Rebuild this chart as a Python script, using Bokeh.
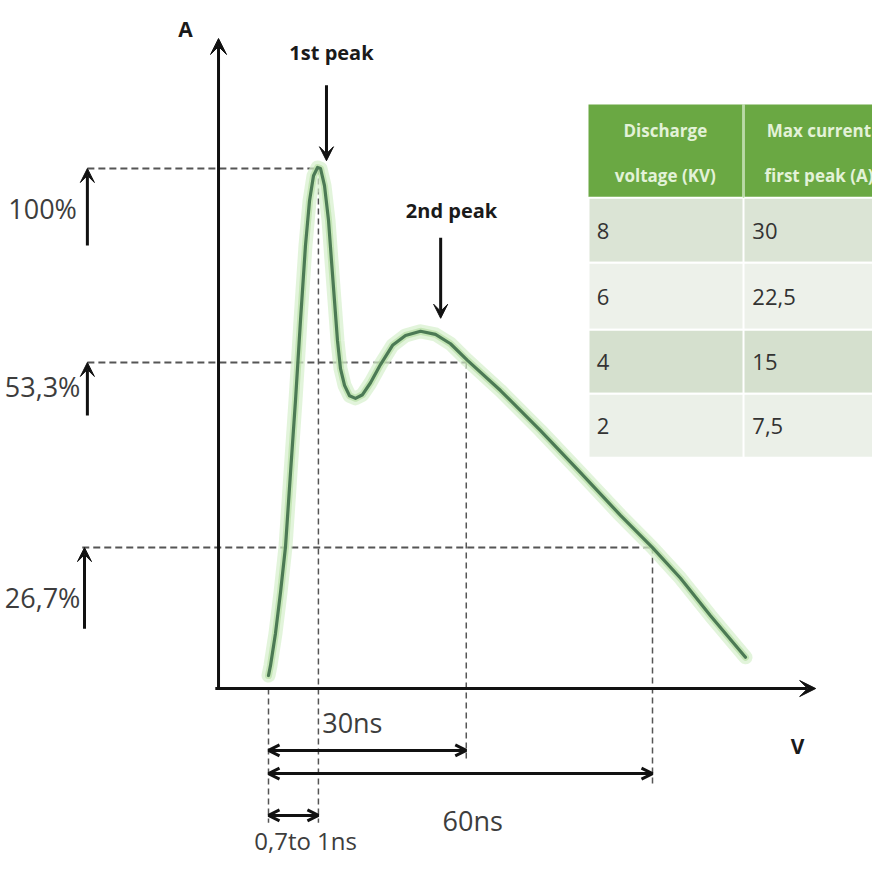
from bokeh.plotting import figure
from bokeh.models import Range1d, Arrow, VeeHead, OpenHead, ColumnDataSource
from bokeh.core.properties import value
from bokeh.embed import file_html
from bokeh.resources import INLINE

# ---------------- data ----------------
# ESD current waveform: time in ns, current in % of first peak
time_ns = [0.0, 0.31, 1.09, 1.88, 2.66, 3.44, 4.22, 5.0, 5.78, 6.41, 7.03, 7.66,
           8.13, 8.75, 9.38, 9.84, 10.31, 10.78, 11.25, 11.88, 12.66, 13.59, 14.69,
           15.94, 17.5, 19.38, 21.41, 23.75, 26.09, 28.44, 31.09, 36.25, 42.5,
           48.75, 55.0, 60.0, 64.38, 69.06, 74.53]
current_pct = [2.5, 4.4, 10.6, 18.5, 27.3, 41.5, 55.4, 70.8, 85.2, 93.8, 98.6, 100.2,
               100.0, 96.7, 90.0, 82.3, 74.6, 66.9, 61.5, 58.3, 56.3, 55.8, 56.5,
               58.8, 62.3, 66.0, 67.9, 68.7, 68.1, 66.3, 63.1, 57.3, 49.6,
               41.5, 33.3, 27.1, 21.2, 14.0, 6.0]

# guide levels (as drawn) and their labels
level_pct = [100.0, 62.7, 27.1]
level_labels = ["100%", "53,3%", "26,7%"]

# guide times (ns): start, first peak, 30 ns, 60 ns marks
mark_ns = [0.0, 7.8, 30.9, 60.0]
interval_labels = ["30ns", "60ns", "0,7to 1ns"]

# table
table_voltage = ["8", "6", "4", "2"]
table_current = ["30", "22,5", "15", "7,5"]
header_col1 = ["Discharge", "voltage (KV)"]
header_col2 = ["Max current", "first peak (A)"]

# ---------------- layout ----------------
AXIS_X = -7.81
X_END = 85.5
Y_END = 125.0

p = figure(width=872, height=863,
           x_range=Range1d(-41.875, 94.375), y_range=Range1d(-33.65, 132.31),
           output_backend="svg", toolbar_location=None, min_border=0,
           x_axis_location=None, y_axis_location=None)
p.grid.visible = False
p.outline_line_color = None
p.background_fill_color = "white"
p.border_fill_color = "white"

FONT = value("Open Sans")

# ---- table ----
T_LEFT, T_MID, T_RIGHT = 50.0, 74.22, 96.0
H_TOP, H_BOT = 112.3, 94.4
row_tops = [94.4, 81.9, 69.0, 56.7]
row_bots = [81.9, 69.0, 56.7, 44.4]
row_cols = ["#dbe4d5", "#edf1ea", "#d5e0ce", "#ebf0e8"]
row_y = [88.0, 75.2, 62.8, 50.4]

p.quad(left=[T_LEFT], right=[T_RIGHT], top=[H_TOP], bottom=[H_BOT],
       fill_color="#6aa843", line_color=None)
p.quad(left=[T_LEFT] * 4, right=[T_RIGHT] * 4, top=row_tops, bottom=row_bots,
       fill_color=row_cols, line_color="white", line_width=2)
p.segment(x0=[T_MID], y0=[row_bots[-1]], x1=[T_MID], y1=[H_TOP],
          line_color="white", line_width=2)
p.segment(x0=[T_MID], y0=[H_BOT], x1=[T_MID], y1=[H_TOP],
          line_color="#b9dca5", line_width=1.5)

p.text(x=[62.0, 62.0], y=[107.3, 98.6], text=header_col1, text_font=FONT,
       text_font_style="bold", text_font_size="17px", text_color="#e3f2d8",
       text_align="center", text_baseline="middle")
p.text(x=[86.0, 86.0], y=[107.3, 98.6], text=header_col2, text_font=FONT,
       text_font_style="bold", text_font_size="17px", text_color="#e3f2d8",
       text_align="center", text_baseline="middle")
p.text(x=[51.3] * 4, y=row_y, text=table_voltage, text_font=FONT,
       text_font_size="22px", text_color="#333333",
       text_align="left", text_baseline="middle")
p.text(x=[75.6] * 4, y=row_y, text=table_current, text_font=FONT,
       text_font_size="22px", text_color="#333333",
       text_align="left", text_baseline="middle")

# ---- dashed guides ----
p.segment(x0=[-28.3, -28.3, -29.1], y0=level_pct,
          x1=[mark_ns[1], mark_ns[2], mark_ns[3]], y1=level_pct,
          line_color="#555555", line_width=2, line_dash="7 4")
p.segment(x0=mark_ns, y0=[0.0, level_pct[0], level_pct[1], level_pct[2]],
          x1=mark_ns, y1=[-25.8, -25.8, -13.9, -18.7],
          line_color="#555555", line_width=1.5, line_dash="6 4")

# ---- waveform with glow ----
p.line(time_ns, current_pct, line_color="#d6f0cc", line_width=14, line_alpha=0.7,
       line_join="round", line_cap="round")
p.line(time_ns, current_pct, line_color="#addb98", line_width=7, line_alpha=0.55,
       line_join="round", line_cap="round")
p.line(time_ns, current_pct, line_color="#4c7a55", line_width=3.2,
       line_join="round", line_cap="round")

# ---- axes ----
axes_src = ColumnDataSource(dict(x0=[AXIS_X, AXIS_X - 0.5], y0=[0.0, 0.0],
                                 x1=[AXIS_X, X_END], y1=[Y_END, 0.0]))
p.add_layout(Arrow(source=axes_src, x_start="x0", y_start="y0", x_end="x1", y_end="y1",
                   line_color="#111111", line_width=3,
                   end=VeeHead(size=16, fill_color="#111111", line_color="#111111")))

# ---- left level arrows ----
lv_src = ColumnDataSource(dict(x0=[-28.3, -28.3, -28.75], y0=[85.2, 52.5, 11.5],
                               x1=[-28.3, -28.3, -28.75], y1=level_pct))
p.add_layout(Arrow(source=lv_src, x_start="x0", y_start="y0", x_end="x1", y_end="y1",
                   line_color="#111111", line_width=3,
                   end=VeeHead(size=14, fill_color="#111111", line_color="#111111")))

# ---- peak arrows ----
pk_src = ColumnDataSource(dict(x0=[9.06, 26.9], y0=[116.0, 86.7],
                               x1=[9.06, 26.9], y1=[101.5, 71.2]))
p.add_layout(Arrow(source=pk_src, x_start="x0", y_start="y0", x_end="x1", y_end="y1",
                   line_color="#111111", line_width=3,
                   end=VeeHead(size=14, fill_color="#111111", line_color="#111111")))

# ---- interval double arrows ----
iv_src = ColumnDataSource(dict(x0=[mark_ns[0]] * 3, y0=[-11.9, -16.35, -24.4],
                               x1=[mark_ns[2], mark_ns[3], mark_ns[1]],
                               y1=[-11.9, -16.35, -24.4]))
p.add_layout(Arrow(source=iv_src, x_start="x0", y_start="y0", x_end="x1", y_end="y1",
                   line_color="#111111", line_width=3,
                   start=OpenHead(size=11, line_color="#111111", line_width=3),
                   end=OpenHead(size=11, line_color="#111111", line_width=3)))

# ---- texts ----
p.text(x=[-35.3, -35.3, -35.3], y=[92.3, 58.1, 17.5], text=level_labels,
       text_font=FONT, text_font_size="27px", text_color="#3d3d3d",
       text_align="center", text_baseline="middle")
p.text(x=[13.1, 31.9], y=[-6.5, -25.4], text=interval_labels[:2],
       text_font=FONT, text_font_size="27px", text_color="#3d3d3d",
       text_align="center", text_baseline="middle")
p.text(x=[5.8], y=[-29.2], text=interval_labels[2:],
       text_font=FONT, text_font_size="24px", text_color="#3d3d3d",
       text_align="center", text_baseline="middle")
p.text(x=[9.84, 28.6], y=[122.3, 91.9], text=["1st peak", "2nd peak"],
       text_font=FONT, text_font_style="bold", text_font_size="20px",
       text_color="#1a1a1a", text_align="center", text_baseline="middle")
p.text(x=[-12.97, 82.66], y=[126.9, -11.15], text=["A", "V"],
       text_font=FONT, text_font_style="bold", text_font_size="21px",
       text_color="#1a1a1a", text_align="center", text_baseline="middle")

open("out.html", "w").write(file_html(p, INLINE))
